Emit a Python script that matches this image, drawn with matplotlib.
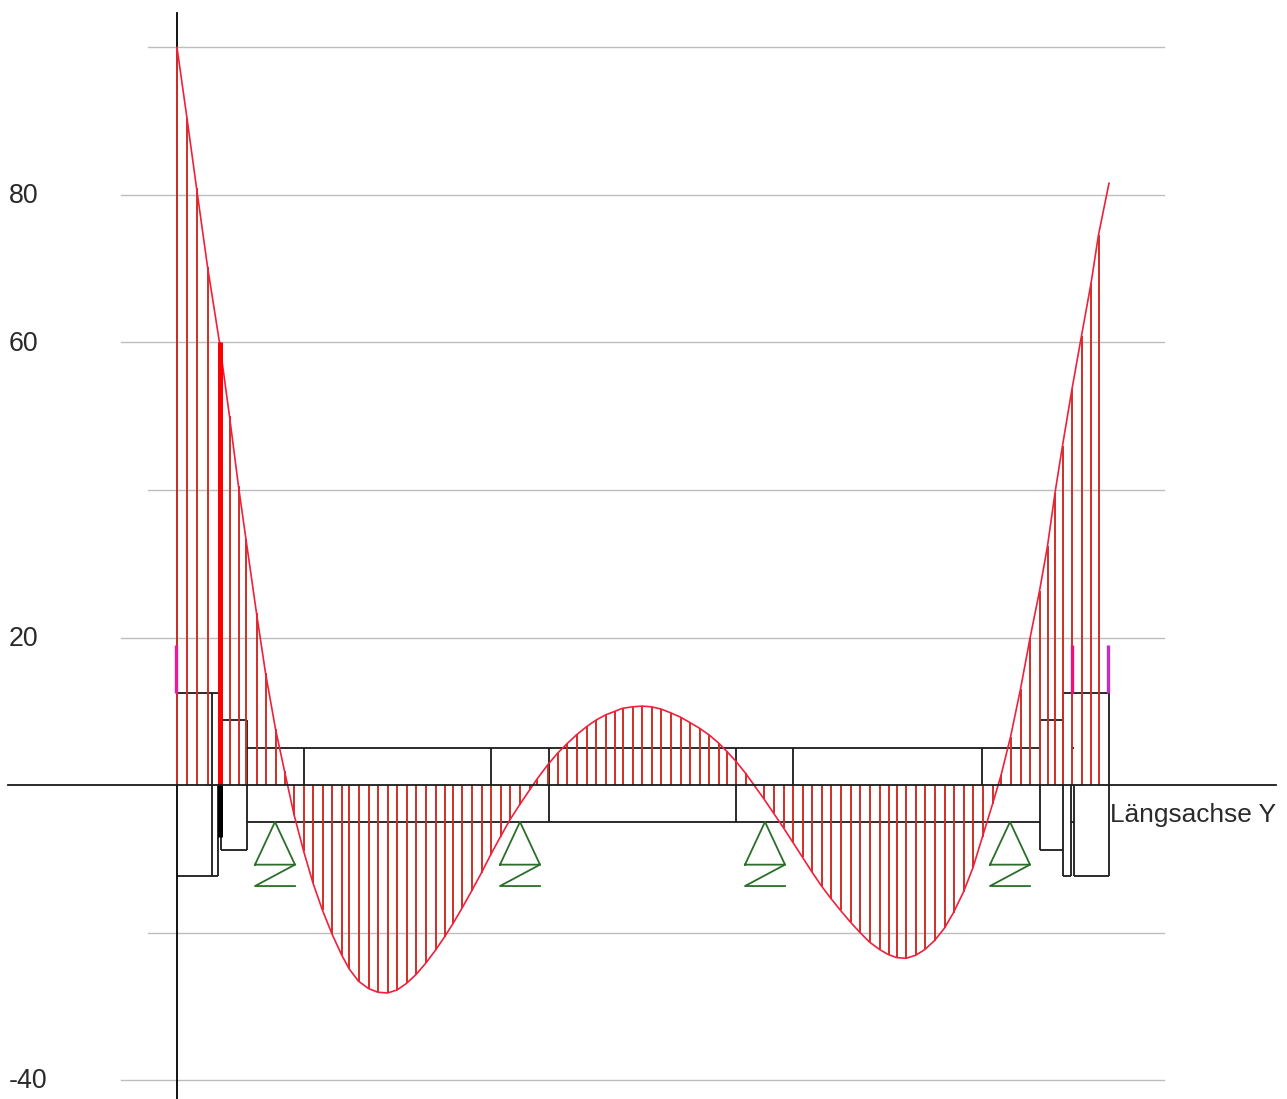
import matplotlib.pyplot as plt

plt.rcParams['font.family'] = ['Liberation Sans', 'DejaVu Sans']

# stations along the beam and moment at each one
stations = [0.00, 0.20, 0.39, 0.61, 0.85, 1.05, 1.23, 1.38, 1.59, 1.77, 1.97, 2.15,
            2.34, 2.53, 2.72, 2.91, 3.10, 3.29, 3.44, 3.63, 3.83, 4.02, 4.21, 4.40,
            4.59, 4.78, 4.97, 5.17, 5.35, 5.51, 5.70, 5.89, 6.09, 6.27, 6.47, 6.66,
            6.85, 7.05, 7.20, 7.41, 7.61, 7.80, 7.99, 8.19, 8.38, 8.57, 8.76, 8.91,
            9.11, 9.30, 9.49, 9.68, 9.87, 10.07, 10.25, 10.45, 10.64, 10.83, 10.99, 11.18,
            11.37, 11.55, 11.74, 11.93, 12.13, 12.31, 12.51, 12.70, 12.89, 13.08, 13.27, 13.47,
            13.66, 13.85, 14.05, 14.23, 14.39, 14.58, 14.77, 14.96, 15.15, 15.35, 15.53, 15.73,
            15.92, 16.11, 16.31, 16.48, 16.67, 16.87, 17.06, 17.25, 17.41, 17.56, 17.71, 17.90,
            18.09, 18.28, 18.43, 18.64]
moment = [100.0, 90.4, 81.0, 70.3, 60.0, 50.0, 40.5, 33.3, 23.3, 15.2, 7.6, 1.9,
          -4.0, -8.9, -13.3, -17.0, -20.2, -23.0, -24.9, -26.6, -27.6, -28.1, -28.2, -27.8,
          -26.9, -25.7, -24.2, -22.4, -20.6, -18.9, -16.7, -14.4, -11.9, -9.5, -7.0, -4.7,
          -2.7, -0.7, 0.8, 2.7, 4.3, 5.6, 6.8, 7.9, 8.8, 9.5, 10.0, 10.4,
          10.6, 10.7, 10.6, 10.3, 9.8, 9.2, 8.5, 7.7, 6.8, 5.7, 4.6, 3.2,
          1.6, -0.1, -1.9, -3.8, -5.8, -7.7, -9.8, -11.8, -13.7, -15.4, -17.0, -18.6,
          -20.0, -21.3, -22.3, -23.0, -23.4, -23.5, -23.1, -22.3, -21.1, -19.4, -17.3, -14.5,
          -11.2, -7.0, -2.6, 1.3, 6.5, 13.0, 19.9, 26.3, 32.4, 39.6, 46.0, 53.7,
          60.9, 68.0, 74.6, 81.6]

# gridlines: (value, has label)
grid_values = [100, 80, 60, 40, 20, -20, -40]
labelled = [80, 60, 20, -40]

supports = [1.96, 6.86, 11.76, 16.66]

# beam outline (y, x from, x to)
beam_h = [(12.5, 0.00, 0.82), (8.8, 0.88, 1.39), (5.0, 1.39, 17.25), (-5.0, 1.39, 17.25),
          (8.8, 17.25, 17.71), (12.5, 17.71, 18.64), (5.0, 17.87, 17.93), (-5.0, 17.87, 17.93),
          (-8.8, 0.88, 1.39), (-12.3, 0.00, 0.82), (-8.8, 17.25, 17.71),
          (-12.3, 17.71, 17.87), (-12.3, 17.93, 18.64)]
# beam outline (x, y from, y to)
beam_v = [(0.70, -12.3, 12.5), (0.82, -12.3, 0), (0.88, -8.8, 0), (1.39, -8.8, 8.8),
          (2.53, 0, 5.0), (6.28, 0, 5.0), (7.43, -5.0, 5.0), (11.18, -5.0, 5.0),
          (12.32, 0, 5.0), (16.10, 0, 5.0), (17.25, -8.8, 8.8), (17.71, -12.3, 12.5),
          (17.87, -12.3, 0), (17.93, -12.3, 0), (18.64, -12.3, 12.5)]

# magenta markers above the section ends
marks_x = [-0.02, 17.90, 18.61]
marks_colors = ['#f0189a', '#f0107a', '#c030c0']
mark_low, mark_high = 12.5, 19.0

px_per_x = 50
px_per_y = 7.375

fig = plt.figure(figsize=(12.87, 10.99), dpi=100)
ax = fig.add_axes([0, 0, 1, 1])
ax.set_xlim(-177 / px_per_x, 1110 / px_per_x)
ax.set_ylim(-314 / px_per_y, 785 / px_per_y)
ax.axis('off')

# gridlines and value labels
for v in grid_values:
    start = -1.12 if v in labelled else -0.58
    ax.plot([start, 19.74], [v, v], color='#bdbdbd', lw=1.0, zorder=1)
for v in labelled:
    ax.text(-3.36, v - 1.15, str(v), fontsize=19.3, color='#2a2a2a', va='baseline', ha='left')

# structure
for y, x0, x1 in beam_h:
    ax.plot([x0, x1], [y, y], color='#1a1a1a', lw=1.3, zorder=2, solid_capstyle='butt')
for x, y0, y1 in beam_v:
    ax.plot([x, x], [y0, y1], color='#1a1a1a', lw=1.3, zorder=2, solid_capstyle='butt')

# vertical axis sits under the hatching
ax.plot([0, 0], [-42.55, 104.7], color='black', lw=1.3, zorder=2)

# hatching down to the axis (the last station has none)
ax.vlines(stations[:-1], 0, moment[:-1], color='#cf2f26', lw=1.4, zorder=3)
ax.plot(stations, moment, color='#f0203c', lw=1.2, zorder=4)

# heavy section change at the left support
ax.vlines(stations[4], 0, moment[4], color='#ff0000', lw=3.6, zorder=5)
ax.vlines(stations[4], -7.0, 0, color='black', lw=3.6, zorder=5)

# horizontal axis
ax.plot([-3.38, 21.98], [0, 0], color='#1a1a1a', lw=1.3, zorder=6)

for x, c in zip(marks_x, marks_colors):
    ax.plot([x, x], [mark_low, mark_high], color=c, lw=2.4, zorder=6, solid_capstyle='butt')

# supports: triangle with spring under it
for x in supports:
    ax.plot([x - 0.4, x, x + 0.4, x - 0.4], [-10.8, -5.0, -10.8, -10.8], color='#2a6e2a', lw=1.3, zorder=5)
    ax.plot([x + 0.4, x - 0.4, x + 0.4], [-10.8, -13.7, -13.7], color='#2a6e2a', lw=1.3, zorder=5)

ax.text(18.66, -4.1, 'Längsachse Y', fontsize=18.9, color='#2a2a2a', va='center', ha='left')

plt.savefig('out.png', dpi=100)
